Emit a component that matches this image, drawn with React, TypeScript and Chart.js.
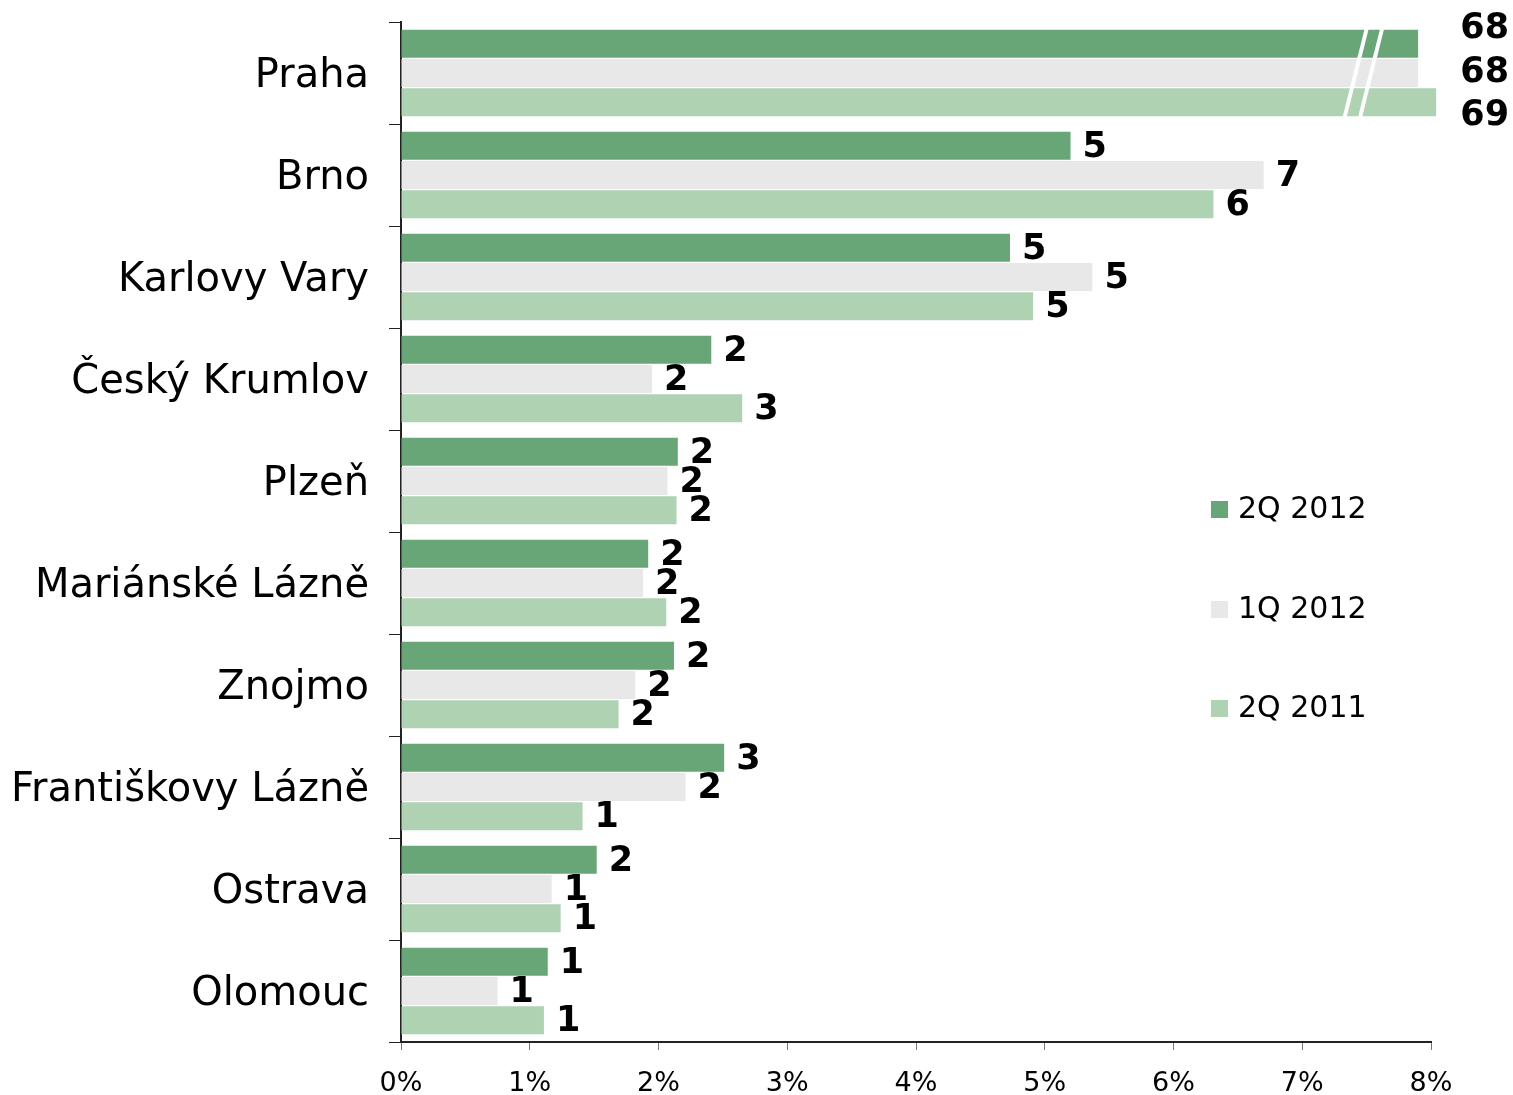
import React, { useEffect, useRef } from "react";
import { Chart, registerables } from "chart.js";

Chart.register(...registerables);

const categories = [
  "Praha",
  "Brno",
  "Karlovy Vary",
  "Český Krumlov",
  "Plzeň",
  "Mariánské Lázně",
  "Znojmo",
  "Františkovy Lázně",
  "Ostrava",
  "Olomouc",
];

const seriesNames = ["2Q 2012", "1Q 2012", "2Q 2011"];

// bar lengths in % (Praha bars are drawn broken at the axis end)
const values2Q2012 = [7.9, 5.2, 4.73, 2.41, 2.15, 1.92, 2.12, 2.51, 1.52, 1.14];
const values1Q2012 = [7.9, 6.7, 5.37, 1.95, 2.07, 1.88, 1.82, 2.21, 1.17, 0.75];
const values2Q2011 = [8.04, 6.31, 4.91, 2.65, 2.14, 2.06, 1.69, 1.41, 1.24, 1.11];

// value labels shown next to the bars
const labels2Q2012 = ["68", "5", "5", "2", "2", "2", "2", "3", "2", "1"];
const labels1Q2012 = ["68", "7", "5", "2", "2", "2", "2", "2", "1", "1"];
const labels2Q2011 = ["69", "6", "5", "3", "2", "2", "2", "1", "1", "1"];

const xTicks = [0, 1, 2, 3, 4, 5, 6, 7, 8];
const brokenIndex = 0;

const colors = ["#68a677", "#e8e8e8", "#aed2b2"];
const FONT = "'DejaVu Sans', Verdana, sans-serif";

export default function App() {
  const ref = useRef<HTMLCanvasElement>(null);

  useEffect(() => {
    if (!ref.current) return;
    const allValues = [values2Q2012, values1Q2012, values2Q2011];
    const allLabels = [labels2Q2012, labels1Q2012, labels2Q2011];

    const labelPlugin = {
      id: "valueLabels",
      afterDatasetsDraw(chart: any) {
        const ctx = chart.ctx;
        const area = chart.chartArea;
        const xs = chart.scales.x;
        // break marks on the broken category
        const m0 = chart.getDatasetMeta(0).data[brokenIndex];
        const m2 = chart.getDatasetMeta(2).data[brokenIndex];
        const top = m0.y - m0.height / 2 - 1;
        const bottom = m2.y + m2.height / 2 + 1;
        ctx.save();
        ctx.strokeStyle = "#ffffff";
        ctx.lineWidth = 4;
        [7.5, 7.62].forEach((v) => {
          const xt = xs.getPixelForValue(v);
          ctx.beginPath();
          ctx.moveTo(xt, top);
          ctx.lineTo(xt - 22, bottom);
          ctx.stroke();
        });
        ctx.restore();

        ctx.save();
        ctx.font = `bold 35px ${FONT}`;
        ctx.fillStyle = "#000";
        ctx.textBaseline = "middle";
        const brokenOffsets = [-15, 0, 14];
        allLabels.forEach((labels, i) => {
          const meta = chart.getDatasetMeta(i);
          labels.forEach((txt, j) => {
            const bar = meta.data[j];
            if (j === brokenIndex) {
              ctx.textAlign = "right";
              ctx.fillText(txt, area.right + 78, bar.y + brokenOffsets[i]);
            } else {
              ctx.textAlign = "left";
              ctx.fillText(txt, bar.x + 12, bar.y + 2);
            }
          });
        });
        ctx.restore();
      },
      afterDraw(chart: any) {
        const ctx = chart.ctx;
        const area = chart.chartArea;
        ctx.save();
        ctx.font = `30px ${FONT}`;
        ctx.textBaseline = "middle";
        ctx.textAlign = "left";
        const ys = [487, 587, 686];
        seriesNames.forEach((name, i) => {
          const y = area.top + ys[i];
          const x = area.right - 220;
          ctx.fillStyle = colors[i];
          ctx.fillRect(x, y - 8, 17, 17);
          ctx.fillStyle = "#000";
          ctx.fillText(name, x + 27, y + 1);
        });
        ctx.restore();
      },
    };

    const chart = new Chart(ref.current, {
      type: "bar",
      data: {
        labels: categories,
        datasets: allValues.map((vals, i) => ({
          label: seriesNames[i],
          data: vals,
          backgroundColor: colors[i],
          borderWidth: 0,
          categoryPercentage: 0.86,
          barPercentage: 0.95,
          clip: false as any,
        })),
      },
      options: {
        indexAxis: "y",
        animation: false,
        responsive: false,
        maintainAspectRatio: false,
        layout: { padding: { top: 22, right: 82, left: 14, bottom: 0 } },
        plugins: {
          legend: { display: false },
          tooltip: { enabled: false },
        },
        scales: {
          x: {
            min: 0,
            max: 8,
            afterBuildTicks: (scale: any) => {
              scale.ticks = xTicks.map((v) => ({ value: v }));
            },
            afterFit: (scale: any) => {
              scale.height = 53;
              scale.paddingLeft = 0;
              scale.paddingRight = 0;
            },
            grid: {
              drawOnChartArea: false,
              drawTicks: true,
              tickLength: 8,
              color: "#777",
            },
            border: { color: "#222", width: 2 },
            ticks: {
              padding: 18,
              color: "#000",
              font: { family: FONT, size: 27 },
              callback: (v: any) => `${v}%`,
              maxRotation: 0,
            },
          },
          y: {
            afterFit: (scale: any) => {
              scale.width = 387;
              scale.paddingTop = 0;
              scale.paddingBottom = 0;
            },
            grid: {
              offset: true,
              drawOnChartArea: false,
              drawTicks: true,
              tickLength: 12,
              color: "#222",
            },
            border: { color: "#222", width: 2 },
            ticks: {
              padding: 20,
              labelOffset: 4,
              color: "#000",
              font: { family: FONT, size: 40 },
            },
          },
        },
      },
      plugins: [labelPlugin],
    } as any);
    return () => chart.destroy();
  }, []);

  return (
    <div style={{ position: "fixed", left: 0, top: 0, width: 1513, height: 1095 }}>
      <canvas ref={ref} width={1513} height={1095} style={{ width: 1513, height: 1095 }} />
    </div>
  );
}
